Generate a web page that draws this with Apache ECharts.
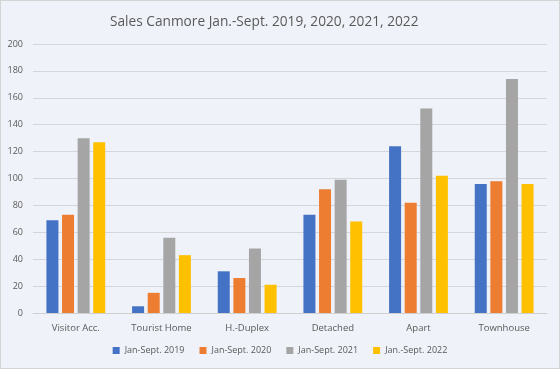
<!DOCTYPE html>
<html><head><meta charset="utf-8">
<script src="https://cdn.jsdelivr.net/npm/echarts@6/dist/echarts.min.js"></script>
<style>html,body{margin:0;padding:0;background:#fff}#c{width:560px;height:369px;box-sizing:border-box;border:1px solid #d4d4d4;background:#eff2f8}</style>
</head><body><div id="c"></div>
<script>
const categories = ['Visitor Acc.', 'Tourist Home', 'H.-Duplex', 'Detached', 'Apart', 'Townhouse'];
const seriesNames = ['Jan-Sept. 2019', 'Jan-Sept. 2020', 'Jan-Sept. 2021', 'Jan.-Sept. 2022'];
const s2019 = [69, 5, 31, 73, 124, 96];
const s2020 = [73, 15, 26, 92, 82, 98];
const s2021 = [130, 56, 48, 99, 152, 174];
const s2022 = [127, 43, 21, 68, 102, 96];
const yTicks = [0, 20, 40, 60, 80, 100, 120, 140, 160, 180, 200];
const colors = ['#4472c4', '#ed7d31', '#a5a5a5', '#ffc000'];
const values = [s2019, s2020, s2021, s2022];

const chart = echarts.init(document.getElementById('c'));
const font = 'Open Sans, Noto Sans, sans-serif';
chart.setOption({
  animation: false,
  title: { text: 'Sales Canmore Jan.-Sept. 2019, 2020, 2021, 2022', left: 104, top: 9,
    textStyle: { fontSize: 13.7, fontWeight: 'normal', color: '#595959', fontFamily: font } },
  legend: { bottom: 8, left: 'center', itemWidth: 7, itemHeight: 7, itemGap: 15, icon: 'rect',
    textStyle: { fontSize: 9, color: '#595959', fontFamily: font }, data: seriesNames },
  grid: { left: 32, right: 12, top: 43, bottom: 55 },
  xAxis: { type: 'category', data: categories,
    axisLine: { lineStyle: { color: '#d0d0d0' } }, axisTick: { show: false },
    axisLabel: { fontSize: 9.5, color: '#595959', fontFamily: font, margin: 10 } },
  yAxis: { type: 'value', min: yTicks[0], max: yTicks[yTicks.length - 1], interval: 20,
    axisLine: { show: false }, axisTick: { show: false },
    axisLabel: { fontSize: 9, color: '#595959', fontFamily: font, margin: 10 },
    splitLine: { lineStyle: { color: '#d4d6da' } } },
  series: seriesNames.map((n, i) => ({
    name: n, type: 'bar', data: values[i], barWidth: 12, barGap: '30%',
    itemStyle: { color: colors[i] }
  }))
});
</script></body></html>
